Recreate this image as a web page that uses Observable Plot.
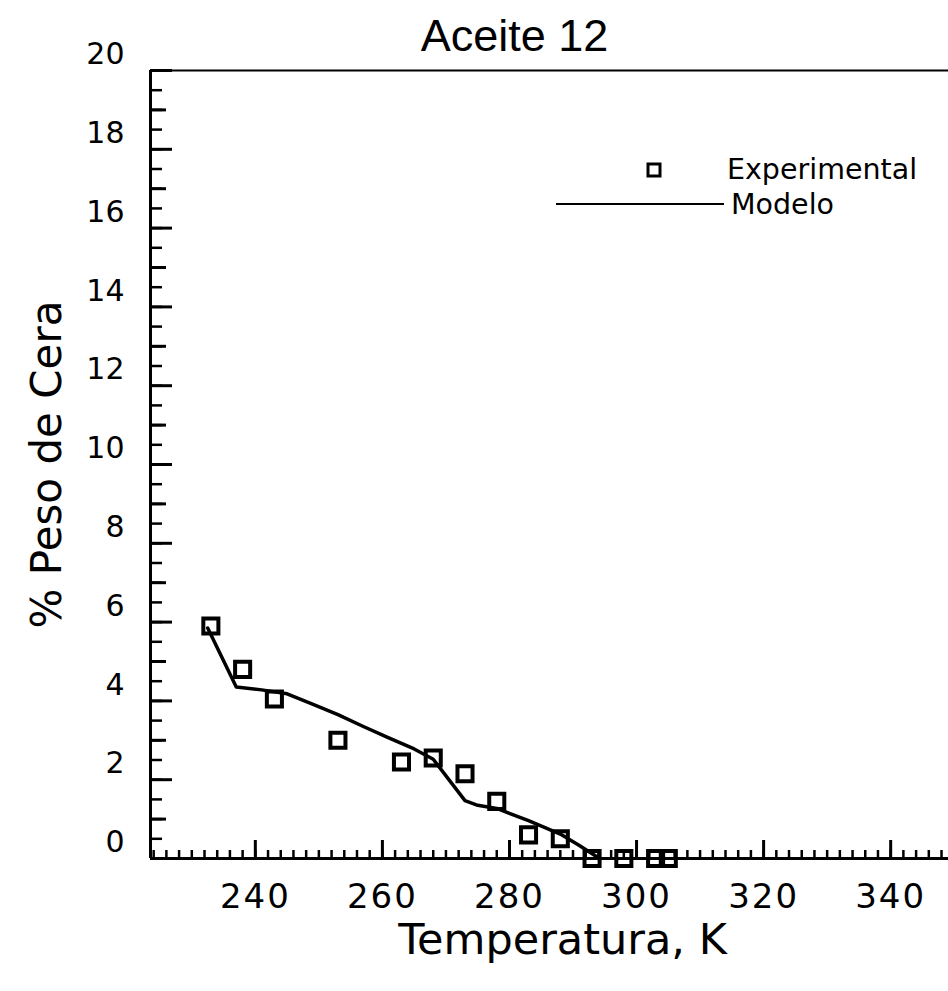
<!DOCTYPE html>
<html><head><meta charset="utf-8">
<script src="https://cdn.jsdelivr.net/npm/d3@7"></script>
<script src="https://cdn.jsdelivr.net/npm/@observablehq/plot@0.6"></script>
<style>
body{margin:0;background:#fff;}
#wrap{position:relative;width:948px;height:991px;overflow:hidden;background:#fff;}
#wrap svg.legend{position:absolute;left:0;top:0;}
</style></head><body>
<div id="wrap"></div>
<script>
// Experimental data
const temperaturas = [233, 238, 243, 253, 263, 268, 273, 278, 283, 288, 293, 298, 303, 305];
const ceraExp     = [5.9, 4.8, 4.05, 3.0, 2.45, 2.55, 2.15, 1.45, 0.6, 0.5, 0, 0, 0, 0];
// Model curve
const modeloT    = [232.5, 237, 241, 245, 249, 253, 257, 261, 265, 268, 273, 275, 278, 283, 288, 291, 294];
const modeloCera = [5.85, 4.35, 4.28, 4.18, 3.92, 3.65, 3.35, 3.06, 2.78, 2.52, 1.47, 1.35, 1.27, 0.96, 0.62, 0.33, 0.02];
// Axes
const xTickLabels = [240, 260, 280, 300, 320, 340];
const yTickLabels = [0, 2, 4, 6, 8, 10, 12, 14, 16, 18, 20];
const xDomain = [223.5, 349.1];
const yDomain = [0, 20];
const titulo = "Aceite 12";
const xTitulo = "Temperatura, K";
const yTitulo = "% Peso de Cera";
const serieNombres = ["Experimental", "Modelo"];

const expData = temperaturas.map((t, i) => ({t, v: ceraExp[i]}));
const modData = modeloT.map((t, i) => ({t, v: modeloCera[i]}));

const xMinor = d3.range(224, 349, 2);
const yMinor = d3.range(0.5, 20, 0.5);
const yMid = d3.range(1, 20, 2);

const font = "DejaVu Sans";

const plot = Plot.plot({
  width: 948, height: 991,
  marginLeft: 150, marginRight: 0, marginTop: 70, marginBottom: 133,
  style: {fontFamily: font, color: "#000", background: "#fff", overflow: "visible"},
  x: {domain: xDomain},
  y: {domain: yDomain},
  marks: [
    // inward ticks
    Plot.axisX({ticks: xMinor, tickSize: -8, tickFormat: () => "", strokeWidth: 2.5, label: null}),
    Plot.axisX({ticks: xTickLabels, tickSize: -18, tickFormat: () => "", strokeWidth: 3, label: null}),
    Plot.axisY({ticks: yMinor, tickSize: -12, tickFormat: () => "", strokeWidth: 2.5, label: null}),
    Plot.axisY({ticks: yMid, tickSize: -16, tickFormat: () => "", strokeWidth: 3, label: null}),
    Plot.axisY({ticks: yTickLabels, tickSize: -22, tickFormat: () => "", strokeWidth: 3, label: null}),
    // tick labels
    Plot.axisX({ticks: xTickLabels, tickSize: 0, tickPadding: 25, fontSize: 34, label: null}),
    Plot.axisY({ticks: yTickLabels, tickSize: 0, tickPadding: 26, dy: -16, fontSize: 30, label: null}),
    // frame lines
    Plot.ruleX([xDomain[0]], {strokeWidth: 3}),
    Plot.ruleY([yDomain[0]], {strokeWidth: 3}),
    Plot.ruleY([yDomain[1]], {strokeWidth: 2}),
    // model line
    Plot.line(modData, {x: "t", y: "v", stroke: "#000", strokeWidth: 3.5}),
    // experimental points
    Plot.dot(expData, {x: "t", y: "v", symbol: "square", r: 8.5, stroke: "#000", strokeWidth: 4, fill: "none"}),
    // titles
    Plot.text([titulo], {text: d => d, frameAnchor: "top", lineAnchor: "middle", textAnchor: "middle", dx: -35, dy: -34, fontSize: 45, fontFamily: "Liberation Sans"}),
    Plot.text([xTitulo], {text: d => d, frameAnchor: "bottom", lineAnchor: "middle", textAnchor: "middle", dx: 13, dy: 82, fontSize: 43}),
    Plot.text([yTitulo], {text: d => d, frameAnchor: "left", lineAnchor: "middle", textAnchor: "middle", dx: -103, rotate: -90, fontSize: 42})
  ]
});

d3.select(plot).selectAll('g[aria-label="x-axis tick label"] text').attr("letter-spacing", 2);

const wrap = document.getElementById("wrap");
wrap.appendChild(plot);

// Legend overlay
const leg = d3.select(wrap).append("svg").attr("class", "legend")
  .attr("width", 948).attr("height", 991)
  .style("font-family", font);
leg.append("rect").attr("x", 648).attr("y", 164).attr("width", 12).attr("height", 12)
  .attr("fill", "none").attr("stroke", "#000").attr("stroke-width", 3);
leg.append("text").attr("x", 727).attr("y", 179).attr("font-size", 28.5).text(serieNombres[0]);
leg.append("line").attr("x1", 556).attr("x2", 724).attr("y1", 204).attr("y2", 204)
  .attr("stroke", "#000").attr("stroke-width", 2);
leg.append("text").attr("x", 731).attr("y", 214).attr("font-size", 28.5).text(serieNombres[1]);
</script>
</body></html>
